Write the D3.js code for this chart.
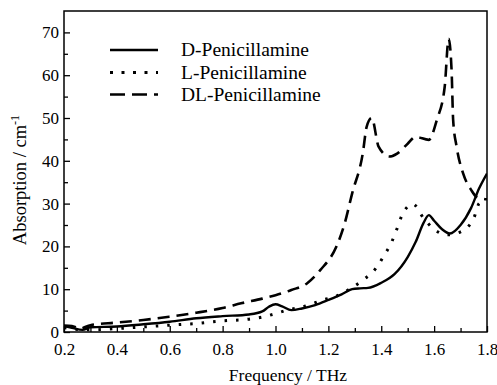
<!DOCTYPE html>
<html>
<head>
<meta charset="utf-8">
<script src="https://cdn.jsdelivr.net/npm/d3@7/dist/d3.min.js"></script>
<style>
  html, body { margin: 0; padding: 0; background: #fff; }
  svg text { font-family: 'Liberation Serif', 'Times New Roman', serif; }
</style>
</head>
<body>
<svg id="chart" width="497" height="385"></svg>
<script>
// Absorption spectra of penicillamine enantiomers and racemate
const dFreq = [0.2, 0.23, 0.27, 0.3, 0.4, 0.5, 0.6, 0.7, 0.8, 0.9, 0.95, 0.975, 1.0, 1.025, 1.06, 1.1, 1.15, 1.2, 1.25, 1.29, 1.32, 1.35, 1.4, 1.45, 1.5, 1.53, 1.56, 1.58, 1.6, 1.63, 1.66, 1.7, 1.74, 1.77, 1.8];
const dValues = [1.4, 1.0, 0.5, 1.1, 1.3, 1.8, 2.4, 3.2, 3.7, 4.1, 4.8, 5.9, 6.5, 6.0, 5.1, 5.5, 6.3, 7.5, 8.8, 10.0, 10.2, 10.3, 11.5, 13.5, 17.5, 21.0, 25.5, 27.3, 26.0, 24.0, 23.0, 25.0, 29.0, 33.5, 37.0];

const lFreq = [0.2, 0.25, 0.3, 0.4, 0.5, 0.6, 0.7, 0.8, 0.9, 0.95, 1.0, 1.05, 1.1, 1.18, 1.23, 1.28, 1.33, 1.38, 1.41, 1.44, 1.46, 1.48, 1.52, 1.56, 1.6, 1.65, 1.7, 1.75, 1.77, 1.8];
const lValues = [1.0, 0.6, 0.5, 0.8, 1.2, 1.6, 2.0, 2.6, 3.0, 3.5, 4.3, 5.2, 5.8, 7.5, 8.4, 10.0, 12.1, 14.9, 17.8, 21.1, 24.2, 27.5, 29.9, 26.6, 24.0, 22.7, 23.4, 26.6, 30.0, 31.0];

const dlFreq = [0.2, 0.23, 0.26, 0.3, 0.4, 0.5, 0.6, 0.7, 0.8, 0.87, 0.95, 1.0, 1.06, 1.12, 1.17, 1.23, 1.26, 1.29, 1.33, 1.345, 1.364, 1.39, 1.43, 1.46, 1.5, 1.53, 1.58, 1.61, 1.64, 1.655, 1.666, 1.672, 1.685, 1.71, 1.74, 1.76, 1.8];
const dlValues = [1.5, 1.4, 0.8, 1.6, 2.2, 2.8, 3.6, 4.5, 5.6, 6.7, 7.8, 8.6, 9.8, 11.4, 14.5, 19.9, 25.0, 32.4, 41.7, 48.0, 50.0, 43.3, 41.0, 41.7, 44.0, 45.6, 44.9, 49.5, 57.3, 68.5, 61.2, 49.5, 43.3, 37.0, 33.2, 31.6, 31.0];

const seriesNames = ["D-Penicillamine", "L-Penicillamine", "DL-Penicillamine"];
const xTicks = [0.2, 0.4, 0.6, 0.8, 1.0, 1.2, 1.4, 1.6, 1.8];
const yTicks = [0, 10, 20, 30, 40, 50, 60, 70];

const FONT = "'Liberation Serif', 'Times New Roman', serif";

const svg = d3.select("#chart");
const margin = { left: 64, right: 10, top: 11, bottom: 53 };
const W = 497, H = 385;
const x = d3.scaleLinear().domain([0.2, 1.8]).range([margin.left, W - margin.right]);
const y = d3.scaleLinear().domain([0, 75]).range([H - margin.bottom, margin.top]);

const styles = [
  { dash: null, legendDash: null, width: 2.4 },
  { dash: "2.5,9", legendDash: "3,8.5", width: 3 },
  { dash: "12,7", legendDash: "15,7", width: 2.6 }
];

svg.append("defs").append("clipPath").attr("id", "plot-clip")
  .append("rect")
  .attr("x", margin.left).attr("y", margin.top)
  .attr("width", x.range()[1] - margin.left)
  .attr("height", y.range()[0] - margin.top);

const line = d3.line().x(d => x(d[0])).y(d => y(d[1])).curve(d3.curveMonotoneX);
const series = [
  d3.zip(dFreq, dValues),
  d3.zip(lFreq, lValues),
  d3.zip(dlFreq, dlValues)
];

const plot = svg.append("g").attr("clip-path", "url(#plot-clip)");
series.forEach((s, i) => {
  plot.append("path")
    .datum(s)
    .attr("d", line)
    .attr("fill", "none")
    .attr("stroke", "#000")
    .attr("stroke-width", styles[i].width)
    .attr("stroke-dasharray", styles[i].dash);
});

// Axes with inward ticks
const xAxis = svg.append("g").attr("transform", `translate(0,${y(0)})`)
  .call(d3.axisBottom(x).tickValues(xTicks).tickFormat(d3.format(".1f")).tickSizeInner(-6).tickSizeOuter(0).tickPadding(11));
const xMinor = svg.append("g").attr("transform", `translate(0,${y(0)})`)
  .call(d3.axisBottom(x).tickValues(d3.range(0.3, 1.8, 0.2)).tickFormat("").tickSizeInner(-4).tickSizeOuter(0));
const yAxis = svg.append("g").attr("transform", `translate(${x(0.2)},0)`)
  .call(d3.axisLeft(y).tickValues(yTicks).tickFormat(d3.format("d")).tickSizeInner(-6).tickSizeOuter(0).tickPadding(5));
const yMinor = svg.append("g").attr("transform", `translate(${x(0.2)},0)`)
  .call(d3.axisLeft(y).tickValues(d3.range(5, 75, 10)).tickFormat("").tickSizeInner(-4).tickSizeOuter(0));

[xAxis, xMinor, yAxis, yMinor].forEach(g => {
  g.attr("font-family", FONT).attr("font-size", 17);
  g.select(".domain").remove();
  g.selectAll("line").attr("stroke", "#000").attr("stroke-width", 1.3);
  g.selectAll("text").style("font-family", FONT).attr("font-size", 17).attr("fill", "#000");
});

// Frame
svg.append("rect")
  .attr("x", margin.left).attr("y", margin.top)
  .attr("width", x.range()[1] - margin.left)
  .attr("height", y.range()[0] - margin.top)
  .attr("fill", "none").attr("stroke", "#000").attr("stroke-width", 1.5);

// Axis titles
svg.append("text")
  .attr("x", 288)
  .attr("y", 381)
  .attr("text-anchor", "middle")
  .style("font-family", FONT)
  .attr("font-size", 17.5)
  .text("Frequency / THz");

const yTitle = svg.append("text")
  .attr("transform", "translate(26,180) rotate(-90)")
  .attr("text-anchor", "middle")
  .style("font-family", FONT)
  .attr("font-size", 18.5);
yTitle.append("tspan").text("Absorption / cm");
yTitle.append("tspan").attr("baseline-shift", "super").attr("font-size", 12).text("-1");

// Legend
const legend = svg.append("g");
const legendY = [50, 72.5, 94.5];
seriesNames.forEach((name, i) => {
  legend.append("line")
    .attr("x1", 110).attr("x2", 158)
    .attr("y1", legendY[i]).attr("y2", legendY[i])
    .attr("stroke", "#000")
    .attr("stroke-width", styles[i].width)
    .attr("stroke-dasharray", styles[i].legendDash);
  legend.append("text")
    .attr("x", 181).attr("y", legendY[i])
    .attr("dy", "0.33em")
    .style("font-family", FONT)
    .attr("font-size", 19.5)
    .text(name);
});
</script>
</body>
</html>
